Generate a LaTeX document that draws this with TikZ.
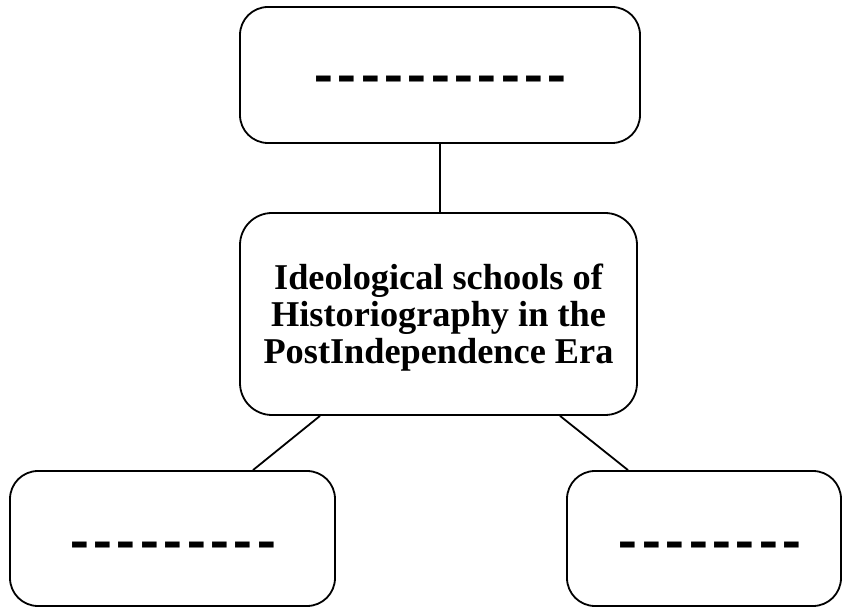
\documentclass[tikz,border=0pt]{standalone}
\usepackage{fontspec}
\setmainfont{Liberation Serif}
\newcommand\onedash{\scalebox{0.8}[1]{-}}
\newcommand\dashrow[1]{\onedash\foreach\i in {2,...,#1}{\kern4.7pt\onedash}}
\begin{document}
\begin{tikzpicture}[x=1pt,y=1pt,
  box/.style={draw,line width=1.8pt,rounded corners=28pt,inner sep=0pt},
  link/.style={line width=1.8pt},
  dashtxt/.style={font=\bfseries\fontsize{70}{70}\selectfont,inner sep=0pt,anchor=base},
  titletxt/.style={font=\bfseries\fontsize{36.3}{37}\selectfont,align=center,inner sep=0pt}]
\useasboundingbox (0,0) rectangle (843,608);
\node[box,minimum width=400pt,minimum height=136pt] (top) at (440,533) {};
\node[box,minimum width=397pt,minimum height=202pt,rounded corners=32pt] (mid) at (438.5,294) {};
\node[box,minimum width=325pt,minimum height=135pt] (bl) at (172.5,69.5) {};
\node[box,minimum width=274pt,minimum height=135pt] (br) at (704,69.5) {};
\node[titletxt] (title) at ([yshift=-4pt]mid.center) {Ideological schools of\\Historiography in the\\PostIndependence Era};
\node[dashtxt] (tdash) at (440.5,512.3) {\dashrow{11}};
\node[dashtxt] (ldash) at (173,46.3) {\dashrow{9}};
\node[dashtxt] (rdash) at (710,46.3) {\dashrow{8}};
\draw[link] (top.south) -- (top.south |- mid.north);
\draw[link] ([xshift=-118.5pt]mid.south) -- ([xshift=80.5pt]bl.north);
\draw[link] ([xshift=121.5pt]mid.south) -- ([xshift=-76pt]br.north);
\end{tikzpicture}
\end{document}
